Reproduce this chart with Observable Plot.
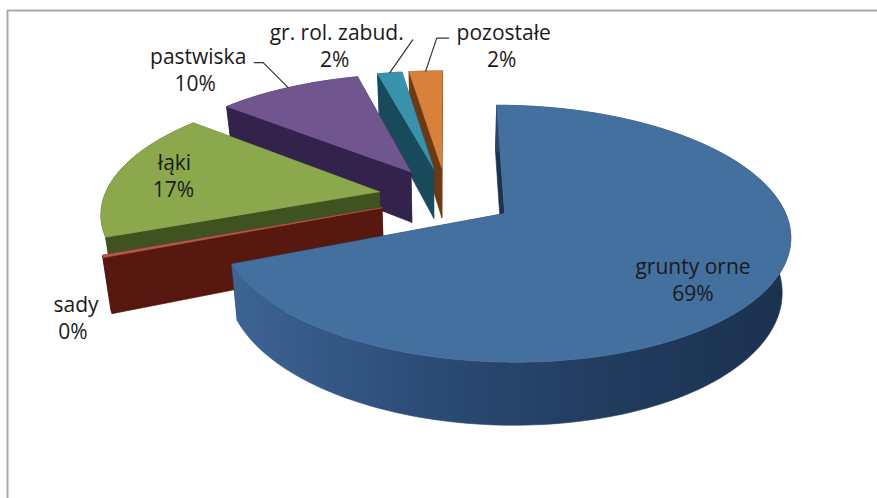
<!DOCTYPE html>
<html>
<head>
<meta charset="utf-8">
<script src="https://cdn.jsdelivr.net/npm/d3@7"></script>
<script src="https://cdn.jsdelivr.net/npm/@observablehq/plot@0.6"></script>
<style>html,body{margin:0;padding:0;background:#fff}svg{display:block}</style>
</head>
<body>
<div id="chart"></div>
<script>
// Data: shares of land use in percent, clockwise from 12 o'clock
const categories = ["grunty orne", "sady", "łąki", "pastwiska", "gr. rol. zabud.", "pozostałe"];
const shares = [68.8, 0.3, 16.9, 10.0, 1.7, 2.3];
const topColors = ["#43709f", "#b5594c", "#8ba84d", "#71558f", "#3a93ad", "#d9813a"];
const sideColors = ["url(#blueWall)", "#56180f", "#3f5320", "#33224b", "#184a5b", "#6c3a12"];
const blueWallStops = [[0, "#3d6494"], [0.36, "#2b4b75"], [0.67, "#223c5f"], [1, "#1b3250"]];
// Drawn from the back of the pie to its front
const paintOrder = [5, 4, 3, 2, 1, 0];

// Label layout: offset of the label from the slice's outer-arc midpoint
const labelOffsets = [[-73, -23], [-27, 49], [57, -10], [-90, -30], [-53, -40], [78, -38]];
const valueOffsets = [[0, 27], [-3, 27], [-1, 27], [-3, 27], [-2, 27], [-2, 27]];
// Leader elbows relative to arc midpoints (null: no leader)
const leaderPaths = [null, null, null, [[-25, -25], [-34, -25]], [[23, -33]], [[11, -33], [23, -33]]];

// View model of the 3-D pie
const cx = 446, cy = 196, A = 275, B = 120, persp = 0.154, explode = 0.249, depth = 52, shrink = 0.975;
const project = (U, V, bottom) => {
  const w = 1 - persp * V;
  const px = cx + (A * U) / w, py = cy + (B * V) / w;
  return bottom ? [cx + (px - cx) * shrink, py + depth / w] : [px, py];
};

const total = d3.sum(shares);
let acc = 0;
const slices = shares.map((s, i) => {
  const a0 = (acc / total) * 2 * Math.PI; acc += s;
  const a1 = (acc / total) * 2 * Math.PI, mid = (a0 + a1) / 2;
  return {i, a0, a1, mid, ox: explode * Math.sin(mid), oy: -explode * Math.cos(mid)};
});

const polys = [];
let pid = 0;
const addPoly = (pts, color) => {
  const z = pid++;
  [...pts, pts[0]].forEach(([x, y]) => polys.push({x, y, z, color}));
};
const at = (sl, a, r, bottom) => project(sl.ox + r * Math.sin(a), sl.oy - r * Math.cos(a), bottom);

for (const i of paintOrder) {
  const sl = slices[i];
  const n = Math.max(2, Math.ceil((sl.a1 - sl.a0) / (1.5 * Math.PI / 180)));
  const as = d3.range(n + 1).map(k => sl.a0 + ((sl.a1 - sl.a0) * k) / n);
  for (const a of [sl.a0, sl.a1]) {
    addPoly([at(sl, a, 0, false), at(sl, a, 1, false), at(sl, a, 1, true), at(sl, a, 0, true)], i === 0 ? "#1b3250" : sideColors[i]);
  }
  addPoly([...as.map(a => at(sl, a, 1, false)), ...as.slice().reverse().map(a => at(sl, a, 1, true))], sideColors[i]);
  addPoly([at(sl, 0, 0, false), ...as.map(a => at(sl, a, 1, false))], topColors[i]);
}

const arcMid = slices.map(sl => at(sl, sl.mid, 1, false));
const nameRows = categories.map((c, i) => ({text: c, x: arcMid[i][0] + labelOffsets[i][0], y: arcMid[i][1] + labelOffsets[i][1]}));
const valueRows = categories.map((c, i) => ({
  text: d3.format(".0f")(shares[i]) + "%",
  x: nameRows[i].x + valueOffsets[i][0],
  y: nameRows[i].y + valueOffsets[i][1]
}));
const leaders = [];
leaderPaths.forEach((p, i) => {
  if (!p) return;
  [[0, 0], ...p].forEach(([dx, dy]) => leaders.push({x: arcMid[i][0] + dx, y: arcMid[i][1] + dy, z: i}));
});

const gradientDefs = (index, {x}) => {
  const g = d3.create("svg:defs").append("linearGradient")
    .attr("id", "blueWall").attr("gradientUnits", "userSpaceOnUse")
    .attr("x1", x(232)).attr("x2", x(780)).attr("y1", 0).attr("y2", 0);
  blueWallStops.forEach(([o, c]) => g.append("stop").attr("offset", o).attr("stop-color", c));
  return g.node().parentNode;
};

const labelFont = {fontSize: 21, fontFamily: "Open Sans", fill: "#1a1a1a", fontWeight: 500};
const chart = Plot.plot({
  width: 877,
  height: 498,
  margin: 0,
  x: {domain: [0, 877], range: [0, 877], axis: null},
  y: {domain: [0, 498], range: [0, 498], axis: null},
  color: {type: "identity"},
  style: {background: "#fff", overflow: "visible"},
  marks: [
    gradientDefs,
    Plot.ruleY([10], {x1: 7, x2: 877, stroke: "#aaaaaa", strokeWidth: 2}),
    Plot.ruleX([7], {y1: 10, y2: 498, stroke: "#aaaaaa", strokeWidth: 2}),
    Plot.line(polys, {x: "x", y: "y", z: "z", fill: "color", stroke: "color", strokeWidth: 0.6, curve: "linear"}),
    Plot.line(leaders, {x: "x", y: "y", z: "z", stroke: "#333", strokeWidth: 1.2}),
    Plot.text(nameRows, {x: "x", y: "y", text: "text", ...labelFont}),
    Plot.text(valueRows, {x: "x", y: "y", text: "text", ...labelFont})
  ]
});
document.getElementById("chart").append(chart);
</script>
</body>
</html>
